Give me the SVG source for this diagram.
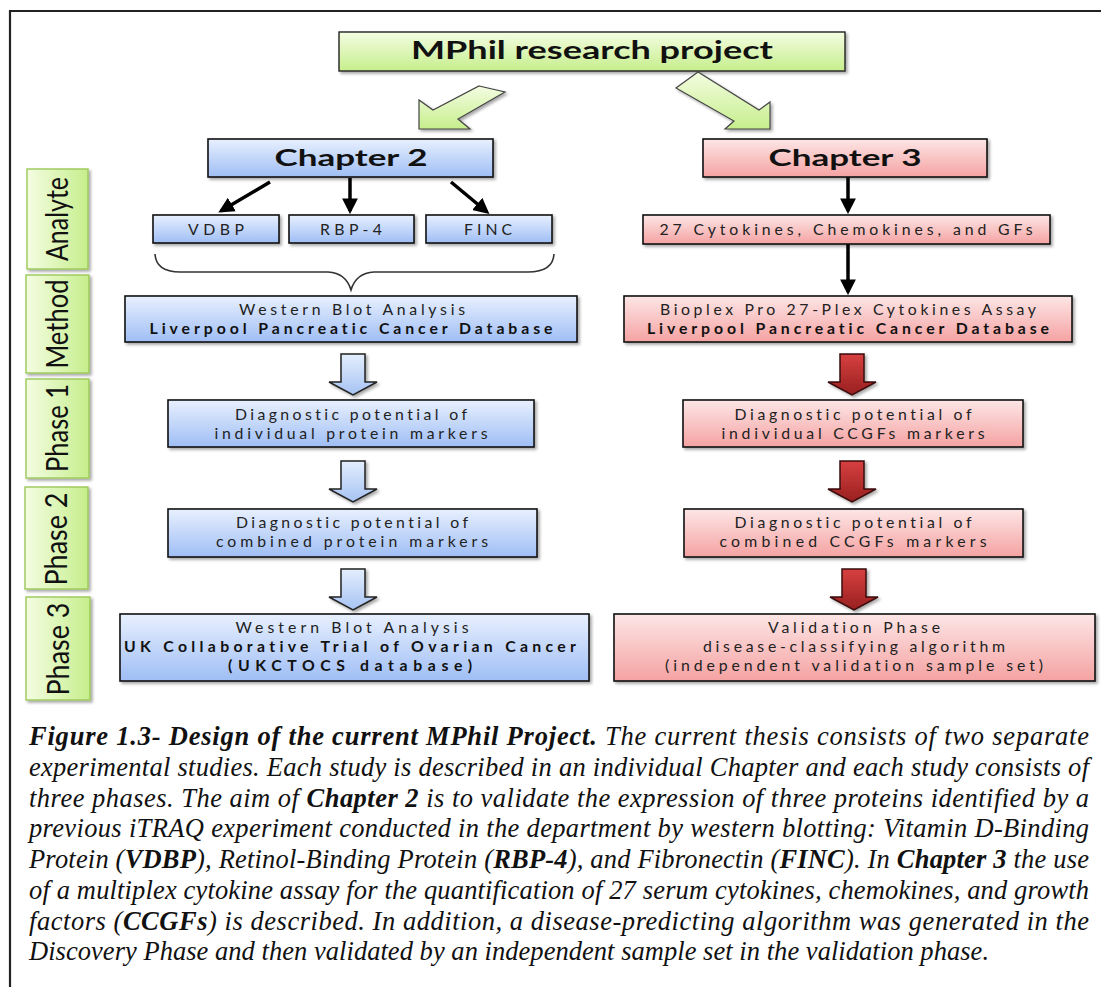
<svg xmlns="http://www.w3.org/2000/svg" width="1101" height="987" viewBox="0 0 1101 987">
<defs>
<linearGradient id="gBlue" x1="0" y1="0" x2="0" y2="1"><stop offset="0" stop-color="#e8f0fe"/><stop offset="1" stop-color="#9fbef5"/></linearGradient>
<linearGradient id="gRed" x1="0" y1="0" x2="0" y2="1"><stop offset="0" stop-color="#fde6e6"/><stop offset="1" stop-color="#f5a2a2"/></linearGradient>
<linearGradient id="gGreen" x1="0" y1="0" x2="0" y2="1"><stop offset="0" stop-color="#f4fde2"/><stop offset="1" stop-color="#c6ee8c"/></linearGradient>
<linearGradient id="gGreenH" x1="0" y1="0" x2="1" y2="0"><stop offset="0" stop-color="#f4fde2"/><stop offset="1" stop-color="#c6ee8c"/></linearGradient>
<linearGradient id="gRedArrow" x1="0" y1="0" x2="0" y2="1"><stop offset="0" stop-color="#d84040"/><stop offset="1" stop-color="#982020"/></linearGradient>
<linearGradient id="gBlueArrow" x1="0" y1="0" x2="0" y2="1"><stop offset="0" stop-color="#e4eefd"/><stop offset="1" stop-color="#a6c3f3"/></linearGradient>
<filter id="sh" x="-10%" y="-20%" width="130%" height="160%"><feDropShadow dx="2" dy="2" stdDeviation="1.5" flood-color="#000" flood-opacity="0.35"/></filter>
<marker id="ah" viewBox="0 0 10 10" refX="8" refY="5" markerWidth="4.5" markerHeight="4.5" orient="auto" markerUnits="strokeWidth"><path d="M0,0 L10,5 L0,10 Z" fill="#000"/></marker>
<style>
.bb{fill:url(#gBlue);stroke:#111;stroke-width:1.6;filter:url(#sh)}
.rb{fill:url(#gRed);stroke:#111;stroke-width:1.6;filter:url(#sh)}
.gb{fill:url(#gGreen);stroke:#222;stroke-width:1.4;filter:url(#sh)}
.lb{fill:url(#gGreenH);stroke:#9cc85a;stroke-width:1.4;filter:url(#sh)}
.t{font-family:Lato,"Open Sans","Liberation Sans",sans-serif;fill:#222;text-anchor:middle;font-size:15.8px;font-variant-ligatures:none}
.tb{font-weight:bold;fill:#111}
.title{font-family:Lato,"Open Sans","Liberation Sans",sans-serif;font-weight:bold;fill:#111;text-anchor:middle}
.lab{font-family:Lato,"Open Sans","Liberation Sans",sans-serif;font-size:30px;fill:#111;text-anchor:middle}
.conn{stroke:#000;stroke-width:3.5;fill:none;marker-end:url(#ah)}
.ra{fill:url(#gRedArrow);stroke:#3a0a0a;stroke-width:1.5;filter:url(#sh)}
.ba{fill:url(#gBlueArrow);stroke:#222;stroke-width:1.5;filter:url(#sh)}
.ga{fill:url(#gGreen);stroke:#444;stroke-width:1.2;filter:url(#sh)}
.cap{font-family:"Liberation Serif","Times New Roman",serif;font-style:italic;font-size:26.5px;fill:#111}
.cb{font-weight:bold}
</style>
</defs>
<rect width="1101" height="987" fill="#fff"/>
<g id="frame">
<line x1="10" y1="11" x2="1101" y2="11" stroke="#222" stroke-width="2.2"/>
<line x1="10" y1="10" x2="10" y2="987" stroke="#222" stroke-width="2.2"/>
</g>

<g id="label-analyte"><rect class="lb" x="27" y="169" width="61" height="100"/><text class="lab" transform="translate(68,219) rotate(-90)" textLength="84" lengthAdjust="spacingAndGlyphs">Analyte</text></g>
<g id="label-method"><rect class="lb" x="26" y="275" width="63" height="98"/><text class="lab" transform="translate(68,324) rotate(-90)" textLength="89" lengthAdjust="spacingAndGlyphs">Method</text></g>
<g id="label-phase1"><rect class="lb" x="26" y="379" width="63" height="99"/><text class="lab" transform="translate(68,428) rotate(-90)" textLength="88" lengthAdjust="spacingAndGlyphs">Phase 1</text></g>
<g id="label-phase2"><rect class="lb" x="25" y="487" width="63" height="102"/><text class="lab" transform="translate(67,539) rotate(-90)" textLength="93" lengthAdjust="spacingAndGlyphs">Phase 2</text></g>
<g id="label-phase3"><rect class="lb" x="26" y="597" width="64" height="103"/><text class="lab" transform="translate(69,649) rotate(-90)" textLength="93" lengthAdjust="spacingAndGlyphs">Phase 3</text></g>

<g id="mphil"><rect class="gb" x="339" y="32" width="506" height="39"/><text class="title" x="592" y="59" font-size="24" textLength="362" lengthAdjust="spacingAndGlyphs">MPhil research project</text></g>

<g id="connectors">
<polygon class="ga" points="479,86 505,92 458,119 470,129 419,129 419,100 433,110"/>
<polygon class="ga" points="698,72 676,88 734,121 725,129 770,129 770,102 759,110"/>
<line class="conn" x1="270" y1="182" x2="221" y2="211"/>
<line class="conn" x1="350" y1="178" x2="350" y2="211"/>
<line class="conn" x1="451" y1="182" x2="487" y2="212"/>
<line class="conn" x1="848" y1="177" x2="848" y2="211"/>
<line class="conn" x1="848" y1="244" x2="848" y2="292"/>
<path d="M155,254 Q156,272 180,272 L328,272 Q346,273 351,290 Q356,273 374,272 L528,272 Q553,272 554,254" fill="none" stroke="#333" stroke-width="1.6"/>
<polygon class="ba" points="341,354 365,354 365,382 377,382 353,395 329,382 341,382"/>
<polygon class="ba" points="341,461 365,461 365,489 377,489 353,502 329,489 341,489"/>
<polygon class="ba" points="341,569 365,569 365,597 377,597 353,610 329,597 341,597"/>
<polygon class="ra" points="840,354 864,354 864,382 876,382 852,395 828,382 840,382"/>
<polygon class="ra" points="840,461 864,461 864,489 876,489 852,502 828,489 840,489"/>
<polygon class="ra" points="842,569 866,569 866,597 878,597 854,610 830,597 842,597"/>
</g>

<g id="chapter2"><rect class="bb" x="208" y="139" width="285" height="38"/><text class="title" x="351" y="166" font-size="22" textLength="153" lengthAdjust="spacingAndGlyphs">Chapter 2</text></g>
<g id="vdbp"><rect class="bb" x="153" y="215" width="126" height="28"/><text class="t" x="216" y="235" font-size="16" textLength="56" lengthAdjust="spacing">VDBP</text></g>
<g id="rbp4"><rect class="bb" x="289" y="215" width="125" height="28"/><text class="t" x="351" y="235" font-size="16" textLength="62" lengthAdjust="spacing">RBP-4</text></g>
<g id="finc"><rect class="bb" x="426" y="215" width="126" height="28"/><text class="t" x="488" y="235" font-size="16" textLength="48" lengthAdjust="spacing">FINC</text></g>
<g id="wb-method"><rect class="bb" x="125" y="296" width="452" height="46"/>
<text class="t" x="352" y="315" textLength="226" lengthAdjust="spacing">Western Blot Analysis</text>
<text class="t tb" x="351" y="334" textLength="403" lengthAdjust="spacing">Liverpool Pancreatic Cancer Database</text></g>
<g id="phase1-left"><rect class="bb" x="168" y="400" width="366" height="47"/>
<text class="t" x="351" y="420" textLength="232" lengthAdjust="spacing">Diagnostic potential of</text>
<text class="t" x="351" y="439" textLength="273" lengthAdjust="spacing">individual protein markers</text></g>
<g id="phase2-left"><rect class="bb" x="168" y="509" width="369" height="48"/>
<text class="t" x="352" y="528" textLength="232" lengthAdjust="spacing">Diagnostic potential of</text>
<text class="t" x="352" y="547" textLength="272" lengthAdjust="spacing">combined protein markers</text></g>
<g id="phase3-left"><rect class="bb" x="120" y="614" width="469" height="67"/>
<text class="t" x="352" y="633" textLength="233" lengthAdjust="spacing">Western Blot Analysis</text>
<text class="t tb" x="350" y="652" textLength="452" lengthAdjust="spacing">UK Collaborative Trial of Ovarian Cancer</text>
<text class="t tb" x="350" y="671" textLength="244" lengthAdjust="spacing">(UKCTOCS database)</text></g>

<g id="chapter3"><rect class="rb" x="703" y="139" width="284" height="38"/><text class="title" x="845" y="166" font-size="22" textLength="153" lengthAdjust="spacingAndGlyphs">Chapter 3</text></g>
<g id="ccgfs"><rect class="rb" x="643" y="215" width="407" height="29"/><text class="t" x="846" y="235" font-size="17" textLength="373" lengthAdjust="spacing">27 Cytokines, Chemokines, and GFs</text></g>
<g id="bioplex-method"><rect class="rb" x="624" y="296" width="448" height="46"/>
<text class="t" x="848" y="315" textLength="376" lengthAdjust="spacing">Bioplex Pro 27-Plex Cytokines Assay</text>
<text class="t tb" x="848" y="334" textLength="402" lengthAdjust="spacing">Liverpool Pancreatic Cancer Database</text></g>
<g id="phase1-right"><rect class="rb" x="683" y="400" width="340" height="47"/>
<text class="t" x="853" y="420" textLength="237" lengthAdjust="spacing">Diagnostic potential of</text>
<text class="t" x="853" y="439" textLength="263" lengthAdjust="spacing">individual CCGFs markers</text></g>
<g id="phase2-right"><rect class="rb" x="684" y="509" width="339" height="48"/>
<text class="t" x="853" y="528" textLength="237" lengthAdjust="spacing">Diagnostic potential of</text>
<text class="t" x="853" y="547" textLength="267" lengthAdjust="spacing">combined CCGFs markers</text></g>
<g id="phase3-right"><rect class="rb" x="614" y="614" width="481" height="67"/>
<text class="t" x="854" y="633" textLength="172" lengthAdjust="spacing">Validation Phase</text>
<text class="t" x="854" y="652" textLength="302" lengthAdjust="spacing">disease-classifying algorithm</text>
<text class="t" x="854" y="671" textLength="378" lengthAdjust="spacing">(independent validation sample set)</text></g>

<g id="caption">
<text class="cap" x="29" y="745" textLength="1060" lengthAdjust="spacing"><tspan class="cb">Figure 1.3- Design of the current MPhil Project.</tspan> The current thesis consists of two separate</text>
<text class="cap" x="29" y="776" textLength="1060" lengthAdjust="spacing">experimental studies. Each study is described in an individual Chapter and each study consists of</text>
<text class="cap" x="29" y="807" textLength="1060" lengthAdjust="spacing">three phases. The aim of <tspan class="cb">Chapter 2</tspan> is to validate the expression of three proteins identified by a</text>
<text class="cap" x="29" y="837" textLength="1060" lengthAdjust="spacing">previous iTRAQ experiment conducted in the department by western blotting: Vitamin D-Binding</text>
<text class="cap" x="29" y="868" textLength="1060" lengthAdjust="spacing">Protein (<tspan class="cb">VDBP</tspan>), Retinol-Binding Protein (<tspan class="cb">RBP-4</tspan>), and Fibronectin (<tspan class="cb">FINC</tspan>). In <tspan class="cb">Chapter 3</tspan> the use</text>
<text class="cap" x="29" y="899" textLength="1060" lengthAdjust="spacing">of a multiplex cytokine assay for the quantification of 27 serum cytokines, chemokines, and growth</text>
<text class="cap" x="29" y="930" textLength="1060" lengthAdjust="spacing">factors (<tspan class="cb">CCGFs</tspan>) is described. In addition, a disease-predicting algorithm was generated in the</text>
<text class="cap" x="29" y="960" textLength="960" lengthAdjust="spacing">Discovery Phase and then validated by an independent sample set in the validation phase.</text>
</g>
</svg>
